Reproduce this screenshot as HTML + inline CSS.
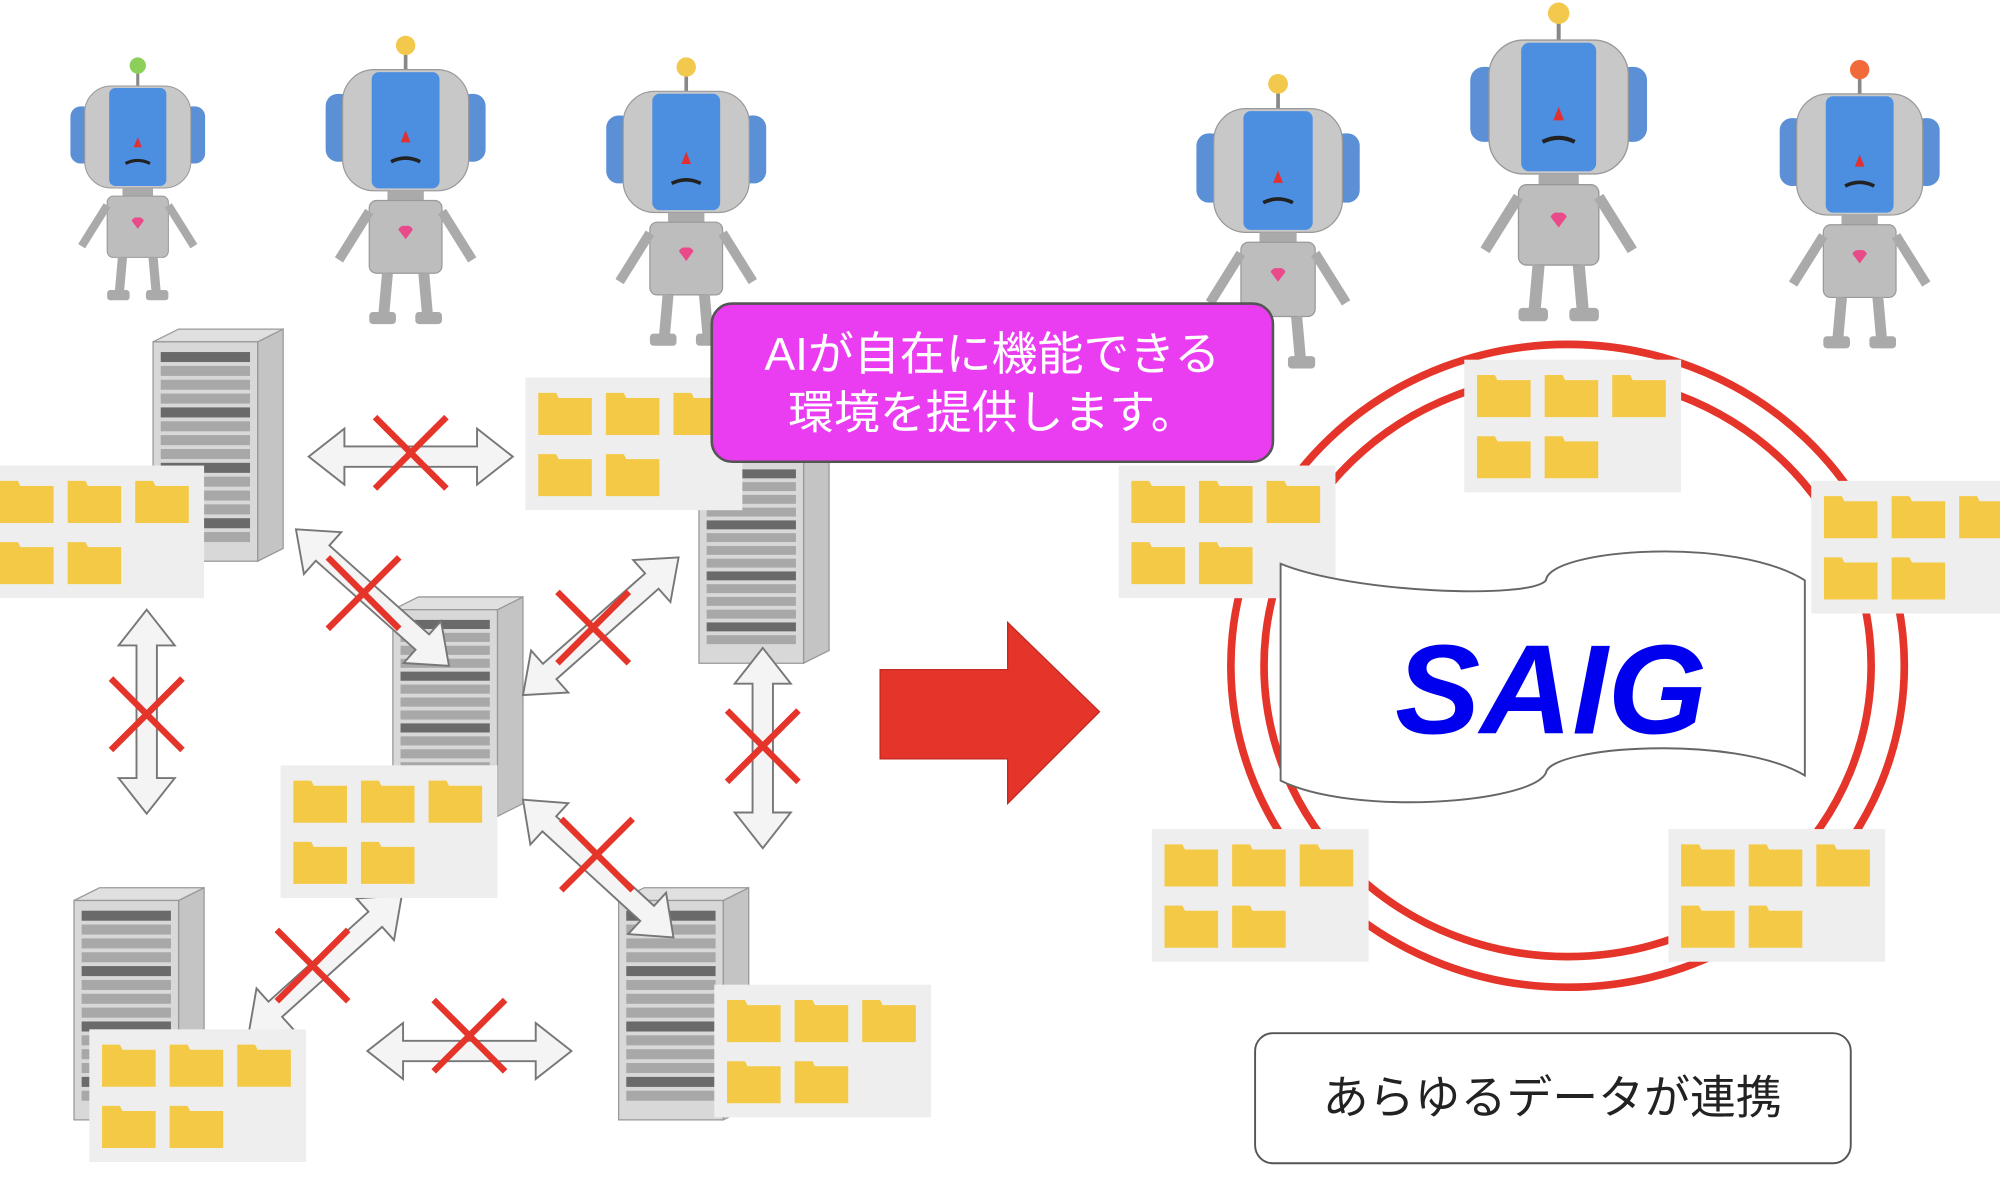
<!DOCTYPE html>
<html><head><meta charset="utf-8"><style>
html,body{margin:0;padding:0;background:#fff;}
svg{display:block}
</style></head><body>
<svg id="s" width="2000" height="1201" viewBox="0 0 1568 941.6" xmlns="http://www.w3.org/2000/svg" font-family="'Liberation Sans','Noto Sans CJK JP',sans-serif">
<rect width="1568" height="942" fill="#fff"/>
<g id="robots"></g>
<g id="servers"></g>
<g id="arrows"></g>
<g id="panels"></g>
<ellipse cx="1229" cy="522" rx="264" ry="252" fill="none" stroke="#e5342a" stroke-width="6"/>
<ellipse cx="1229" cy="522" rx="238" ry="228" fill="none" stroke="#e5342a" stroke-width="6"/>
<g id="panels2"></g>
<path d="M1004 528 L1004 442 C1060 465 1200 470 1212 455 C1215 430 1360 420 1415 455 L1415 608 C1360 575 1215 585 1212 606 C1200 630 1060 640 1004 612 Z" fill="#fff" stroke="#666" stroke-width="1.5"/>
<text x="1216" y="575" font-size="100" font-style="italic" font-weight="bold" fill="#0000ee" text-anchor="middle">SAIG</text>
<path d="M690 525 L790 525 L790 488 L862 558 L790 630 L790 595 L690 595 Z" fill="#e5342a" stroke="#c02a20" stroke-width="1"/>
<rect x="558" y="238" width="440" height="124" rx="16" fill="#ea3cf0" stroke="#555" stroke-width="2"/>
<text x="778" y="290" font-size="36" fill="#fff" text-anchor="middle">AIが自在に機能できる</text>
<text x="778" y="336" font-size="36" fill="#fff" text-anchor="middle">環境を提供します。</text>
<rect x="984" y="810" width="467" height="102" rx="14" fill="#fff" stroke="#555" stroke-width="1.5"/>
<text x="1217" y="873" font-size="36" fill="#222" text-anchor="middle">あらゆるデータが連携</text>
</svg>
<script>
var NS="http://www.w3.org/2000/svg";
function el(p,t,a){var e=document.createElementNS(NS,t);for(var k in a)e.setAttribute(k,a[k]);p.appendChild(e);return e;}
var sv=document.getElementById('servers');
function server(x,y,w,h){
 var g=el(sv,'g',{});
 el(g,'polygon',{points:(x+w)+','+(y+10)+' '+(x+w+20)+','+y+' '+(x+w+20)+','+(y+h-10)+' '+(x+w)+','+(y+h),fill:'#c4c4c4',stroke:'#999'});
 el(g,'polygon',{points:x+','+(y+10)+' '+(x+20)+','+y+' '+(x+w+20)+','+y+' '+(x+w)+','+(y+10),fill:'#e0e0e0',stroke:'#999'});
 el(g,'rect',{x:x,y:y+10,width:w,height:h-10,fill:'#d8d8d8',stroke:'#999'});
 for(var i=0;i<14;i++){el(g,'rect',{x:x+6,y:y+18+i*((h-30)/14),width:w-12,height:(h-30)/14-3,fill:i%4==0?'#6a6a6a':'#a8a8a8'});}
}
server(120,258,82,182);server(548,350,82,170);server(308,468,82,172);server(58,696,82,182);server(485,696,82,182);
function panel(par,x,y,w){
 var p=document.getElementById(par);
 el(p,'rect',{x:x,y:y,width:w||170,height:104,fill:'#eeeeee'});
 var pos=[[0,0],[1,0],[2,0],[0,1],[1,1]];
 pos.forEach(function(q){var fx=x+10+q[0]*53,fy=y+12+q[1]*48;
  if(fx+42>x+(w||170)+20)return;
  el(p,'path',{d:'M'+fx+' '+(fy+4)+' L'+fx+' '+fy+' L'+(fx+14)+' '+fy+' L'+(fx+16)+' '+(fy+4)+' L'+(fx+42)+' '+(fy+4)+' L'+(fx+42)+' '+(fy+33)+' L'+fx+' '+(fy+33)+'Z',fill:'#f4c946'});});
}
panel('panels',-10,365,170);panel('panels',412,296,170);panel('panels',220,600,170);panel('panels',70,807,170);panel('panels',560,772,170);
panel('panels2',877,365);panel('panels2',1148,282);panel('panels2',1420,377,150);panel('panels2',903,650);panel('panels2',1308,650);
var ar=document.getElementById('arrows');
function darrow(x1,y1,x2,y2,cx,cy){
 var dx=x2-x1,dy=y2-y1,L=Math.sqrt(dx*dx+dy*dy),a=Math.atan2(dy,dx)*180/Math.PI,h=L/2;
 var g=el(ar,'g',{transform:'translate('+((x1+x2)/2)+','+((y1+y2)/2)+') rotate('+a+')'});
 el(g,'polygon',{points:(-h)+',0 '+(-h+28)+',-22 '+(-h+28)+',-8 '+(h-28)+',-8 '+(h-28)+',-22 '+h+',0 '+(h-28)+',22 '+(h-28)+',8 '+(-h+28)+',8 '+(-h+28)+',22',fill:'#f4f4f4',stroke:'#777','stroke-width':1.5});
 var r=28;
 el(ar,'line',{x1:cx-r,y1:cy-r,x2:cx+r,y2:cy+r,stroke:'#e5342a','stroke-width':5});
 el(ar,'line',{x1:cx-r,y1:cy+r,x2:cx+r,y2:cy-r,stroke:'#e5342a','stroke-width':5});
}
darrow(242,358,402,358,322,355);darrow(232,415,352,522,285,465);darrow(410,545,532,437,465,492);
darrow(115,478,115,638,115,560);darrow(598,508,598,665,598,585);darrow(410,627,528,735,468,670);
darrow(195,810,315,702,245,757);darrow(288,824,448,824,368,812);
var rb=document.getElementById('robots');
function robot(cx,top,s,ball){
 var g=el(rb,'g',{transform:'translate('+cx+','+top+') scale('+s+')'});
 el(g,'line',{x1:0,y1:10,x2:0,y2:30,stroke:'#888','stroke-width':3});
 el(g,'circle',{cx:0,cy:8,r:8,fill:ball});
 el(g,'rect',{x:-66,y:48,width:22,height:56,rx:10,fill:'#5b8fd6'});
 el(g,'rect',{x:44,y:48,width:22,height:56,rx:10,fill:'#5b8fd6'});
 el(g,'rect',{x:-52,y:28,width:104,height:100,rx:26,fill:'#c8c8c8',stroke:'#999'});
 el(g,'rect',{x:-28,y:30,width:56,height:96,rx:6,fill:'#4c8fe0'});
 el(g,'polygon',{points:'-4,88 4,88 0,78',fill:'#e03030'});
 el(g,'path',{d:'M-12 104 Q0 98 12 104',stroke:'#222','stroke-width':3,fill:'none'});
 el(g,'rect',{x:-15,y:128,width:30,height:8,fill:'#aaa'});
 el(g,'rect',{x:-30,y:136,width:60,height:60,rx:6,fill:'#bdbdbd',stroke:'#999'});
 el(g,'path',{d:'M-6 160 a5 5 0 0 1 6 -3 a5 5 0 0 1 6 3 l-6 8 z',fill:'#e84a8a'});
 el(g,'line',{x1:-30,y1:145,x2:-55,y2:185,stroke:'#aaa','stroke-width':8});
 el(g,'line',{x1:30,y1:145,x2:55,y2:185,stroke:'#aaa','stroke-width':8});
 el(g,'line',{x1:-15,y1:196,x2:-18,y2:230,stroke:'#aaa','stroke-width':9});
 el(g,'line',{x1:15,y1:196,x2:18,y2:230,stroke:'#aaa','stroke-width':9});
 el(g,'rect',{x:-30,y:228,width:22,height:10,rx:3,fill:'#aaa'});
 el(g,'rect',{x:8,y:228,width:22,height:10,rx:3,fill:'#aaa'});
}
robot(108,45,0.8,'#8ccf5a');robot(318,28,0.95,'#f2c94c');robot(538,45,0.95,'#f2c94c');
robot(1002,58,0.97,'#f2c94c');robot(1222,2,1.05,'#f2c94c');robot(1458,47,0.95,'#f26a3a');
</script>
</body></html>
